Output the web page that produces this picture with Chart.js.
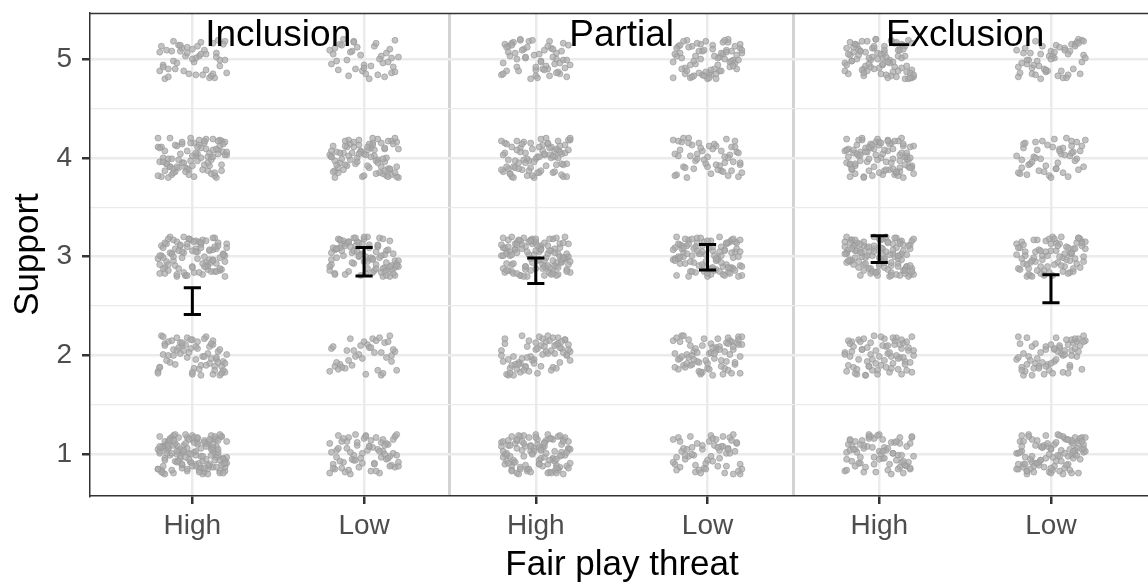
<!DOCTYPE html>
<html><head><meta charset="utf-8">
<script src="https://cdn.jsdelivr.net/npm/chart.js@4.4.1/dist/chart.umd.min.js"></script>
<style>
html,body{margin:0;padding:0;background:#fff;overflow:hidden;width:1148px;height:585px}
#wrap{position:absolute;left:0;top:0;width:1160px;height:585px}
</style>
</head><body><div id="wrap"><canvas id="c" width="1160" height="585"></canvas></div>
<script>
// ---- data ----
const facetGroups = ['Inclusion', 'Partial', 'Exclusion'];
const threatLevels = ['High', 'Low'];
const supportLevels = [1, 2, 3, 4, 5];
// number of responses at support 1..5 for each group x threat cell
// order: Inclusion-High, Inclusion-Low, Partial-High, Partial-Low, Exclusion-High, Exclusion-Low
const responseCounts = [
  [145, 70, 100, 90, 50],
  [70, 40, 95, 85, 40],
  [110, 70, 120, 85, 60],
  [60, 75, 105, 55, 75],
  [75, 75, 120, 95, 90],
  [100, 65, 85, 50, 55]
];
const ciLower = [2.414, 2.804, 2.729, 2.865, 2.942, 2.533];
const ciUpper = [2.685, 3.094, 2.987, 3.122, 3.213, 2.817];
// jitter offsets (hundredths of a unit), as typed-out tables
const jitterX = [-17,5,12,-3,19,-11,8,-19,2,14,-7,16,-14,0,10,-5,18,-16,6,-9,13,-1,-20,9,3,-13,17,-6,11,-18,1,15,-10,7,-15,20,-4,12,-8,4,-12,18,-2,8,-17,14,-6,0,16,-19,10,-11,5,-14,19,-3,2,-9,13,-16,7,-1,17,-7,11,-20,3,15,-13,9,-5,1,-18,12,6,-10,19,-15,4,-4,14,-8,20,-12,8,-2,16,-17,0,10,-6,13,-19,5,-11,18,-14,2,11,-3,7,-16,15,-9,3,-20,12,-1,17,-13,9,-7,6,-18,1,14,-5,19,-10,4,-15,10,-8,16,-2,8,-12,20,-4,5,-17,13,-6,2,-14,18,-11,11,-3,15,-19,7,-9,3,-16,0,12];
const jitterY = [8,-14,3,17,-6,-19,11,1,-10,15,-2,-17,6,19,-12,9,-4,13,-20,0,16,-8,5,-15,12,-1,18,-11,7,-16,2,14,-7,-18,10,-3,20,-13,4,-9,17,-5,1,11,-19,8,-14,15,-6,3,-10,19,-2,13,-17,6,-12,9,0,-20,14,-8,18,-4,5,-15,10,-1,16,-11,2,12,-18,7,-7,20,-13,4,-16,11,-3,17,-9,1,-5,15,-19,8,-12,13,3,-6,18,-14,9,-10,6,-1,19,-17,12,-4,2,-8,16,-15,10,0,-11,14,-20,5,-2,7,17,-13,4,-9,11,-18,1,15,-7,20,-5,8,-16,13,-3,6,-12,18,-10,3,9,-19,14,-1,-15,5];
const xGridValues = [1, 2, 2.5, 3, 4, 4.5, 5, 6];
const yGridValues = [1, 1.5, 2, 2.5, 3, 3.5, 4, 4.5, 5];
const facetLabelX = [1.5, 3.5, 5.5];
const facetLabelY = 5.236;
const xRange = [0.404, 6.6];
const yRange = [0.578, 5.466];

// ---- build jittered points from the tables ----
const points = [];
let k = 0;
responseCounts.forEach((counts, cell) => {
  counts.forEach((n, li) => {
    for (let j = 0; j < n; j++) {
      points.push({
        x: cell + 1 + jitterX[k % jitterX.length] / 100,
        y: supportLevels[li] + jitterY[k % jitterY.length] / 100
      });
      k++;
    }
  });
});

const FONT = '"Liberation Sans", Arial, Helvetica, sans-serif';

const overlay = {
  id: 'overlay',
  afterDatasetsDraw(chart) {
    const c = chart.ctx, xs = chart.scales.x, ys = chart.scales.y, a = chart.chartArea;
    c.save();
    // error bars
    c.strokeStyle = '#000';
    c.lineWidth = 3;
    c.lineCap = 'butt';
    ciLower.forEach((lo, i) => {
      const xc = xs.getPixelForValue(i + 1);
      const hw = xs.getPixelForValue(i + 1.05) - xc;
      const yl = ys.getPixelForValue(lo), yu = ys.getPixelForValue(ciUpper[i]);
      c.beginPath();
      c.moveTo(xc, yl); c.lineTo(xc, yu);
      c.moveTo(xc - hw, yl); c.lineTo(xc + hw, yl);
      c.moveTo(xc - hw, yu); c.lineTo(xc + hw, yu);
      c.stroke();
    });
    // facet labels
    c.fillStyle = '#000';
    c.font = '37px ' + FONT;
    c.textAlign = 'center';
    c.textBaseline = 'middle';
    facetGroups.forEach((g, i) => {
      c.fillText(g, xs.getPixelForValue(facetLabelX[i]), ys.getPixelForValue(facetLabelY));
    });
    // top panel border
    c.strokeStyle = '#333333';
    c.lineWidth = 1.5;
    c.beginPath();
    c.moveTo(a.left, a.top + 0.5); c.lineTo(a.right, a.top + 0.5);
    c.stroke();
    c.restore();
  }
};

new Chart(document.getElementById('c'), {
  type: 'scatter',
  data: {
    datasets: [{
      data: points,
      pointRadius: 3,
      pointHoverRadius: 3,
      backgroundColor: 'rgba(170,170,170,0.7)',
      borderColor: 'rgba(150,150,150,0.65)',
      borderWidth: 1
    }]
  },
  options: {
    responsive: false,
    animation: false,
    devicePixelRatio: 1,
    events: [],
    layout: { padding: { left: 0, right: 6, top: 13, bottom: 0 } },
    plugins: { legend: { display: false }, tooltip: { enabled: false } },
    scales: {
      x: {
        type: 'linear',
        min: xRange[0], max: xRange[1],
        afterBuildTicks(s) { s.ticks = xGridValues.map(v => ({ value: v })); },
        afterFit(s) { s.height = 89; s.paddingLeft = 0; s.paddingRight = 0; },
        ticks: {
          autoSkip: false, maxRotation: 0, minRotation: 0, padding: 5,
          color: '#4D4D4D', font: { family: FONT, size: 28 },
          callback: (v) => Number.isInteger(v) ? threatLevels[(v - 1) % 2] : ''
        },
        grid: {
          color: (ctx) => (ctx.tick && !Number.isInteger(ctx.tick.value)) ? '#D3D3D3' : '#EBEBEB',
          lineWidth: (ctx) => (ctx.tick && !Number.isInteger(ctx.tick.value)) ? 3 : 2.5,
          tickColor: (ctx) => (ctx.tick && Number.isInteger(ctx.tick.value)) ? '#333333' : 'rgba(0,0,0,0)',
          tickWidth: 2.5,
          tickLength: 8
        },
        border: { display: true, color: '#333333', width: 1.5 },
        title: {
          display: true, text: 'Fair play threat', color: '#000',
          font: { family: FONT, size: 35, lineHeight: 1 },
          padding: { top: 0, bottom: 2.5 }
        }
      },
      y: {
        type: 'linear',
        min: yRange[0], max: yRange[1],
        afterBuildTicks(s) { s.ticks = yGridValues.map(v => ({ value: v })); },
        afterFit(s) { s.width = 90; s.paddingTop = 0; s.paddingBottom = 0; },
        ticks: {
          padding: 10, color: '#4D4D4D', font: { family: FONT, size: 28 },
          callback: (v) => Number.isInteger(v) ? String(supportLevels[v - 1]) : ''
        },
        grid: {
          color: '#EBEBEB',
          lineWidth: (ctx) => (ctx.tick && Number.isInteger(ctx.tick.value)) ? 2.5 : 1.3,
          tickColor: (ctx) => (ctx.tick && Number.isInteger(ctx.tick.value)) ? '#333333' : 'rgba(0,0,0,0)',
          tickWidth: 2.5,
          tickLength: 8
        },
        border: { display: true, color: '#333333', width: 1.5 },
        title: {
          display: true, text: 'Support', color: '#000',
          font: { family: FONT, size: 35, lineHeight: 1 },
          padding: { top: 11, bottom: 0 }
        }
      }
    }
  },
  plugins: [overlay]
});
</script></body></html>
